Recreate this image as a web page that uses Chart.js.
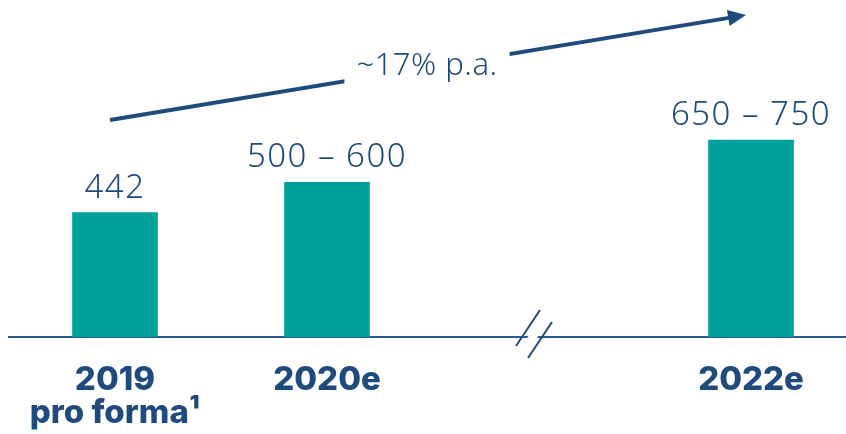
<!DOCTYPE html>
<html>
<head>
<meta charset="utf-8">
<script src="https://cdn.jsdelivr.net/npm/chart.js@4.4.0/dist/chart.umd.min.js"></script>
<style>
  html, body { margin: 0; padding: 0; background: #fff; }
  #wrap { width: 846px; height: 434px; }
</style>
</head>
<body>
<div id="wrap"><canvas id="chart"></canvas></div>
<script>
// data (2021 is the empty slot behind the axis break)
const categories = ['2019', '2020e', '2021', '2022e'];
const subLabels = ['pro forma¹', '', '', ''];
const values = [442, 550, null, 700];        // bar heights (range midpoints)
const valueLabels = ['442', '500 – 600', '', '650 – 750'];
const growthLabel = '~17% p.a.';
const breakIndex = 2;

const navy = '#1f4a7e';
const teal = '#00a19b';

// arrow: from above 2019 to above 2022e, in data units
const arrowFrom = { x: 0, y: 771 };
const arrowTo = { x: 3, y: 1144 };

const points = values
  .map((v, i) => ({ x: i, y: v }))
  .filter(p => p.y != null);

const tickLabel = (i) => subLabels[i] ? [categories[i], subLabels[i]] : categories[i];

const valueLabelPlugin = {
  id: 'valueLabels',
  afterDatasetsDraw(chart) {
    const ctx = chart.ctx;
    const meta = chart.getDatasetMeta(0);
    ctx.save();
    ctx.font = '300 33px "Noto Sans"';
    ctx.letterSpacing = '1.5px';
    ctx.fillStyle = navy;
    ctx.textAlign = 'center';
    ctx.textBaseline = 'alphabetic';
    meta.data.forEach((bar, i) => {
      const idx = points[i].x;
      ctx.fillText(valueLabels[idx], bar.x, bar.y - 15);
    });
    ctx.restore();
  }
};

const breakPlugin = {
  id: 'axisBreak',
  afterDraw(chart) {
    const ctx = chart.ctx;
    const x = chart.scales.x.getPixelForValue(breakIndex) - 5;
    const y = chart.chartArea.bottom;
    ctx.save();
    // white gap in the axis line
    ctx.strokeStyle = '#fff';
    ctx.lineWidth = 8;
    ctx.beginPath();
    ctx.moveTo(x - 14, y + 18);
    ctx.lineTo(x + 10, y - 16);
    ctx.stroke();
    ctx.strokeStyle = navy;
    ctx.lineWidth = 2;
    [-6, 6].forEach(d => {
      ctx.beginPath();
      ctx.moveTo(x + d - 12, y + d + 15);
      ctx.lineTo(x + d + 12, y + d - 21);
      ctx.stroke();
    });
    ctx.restore();
  }
};

const arrowPlugin = {
  id: 'growthArrow',
  afterDraw(chart) {
    const ctx = chart.ctx;
    const xs = chart.scales.x, ys = chart.scales.y;
    const x1 = xs.getPixelForValue(arrowFrom.x) - 5, y1 = ys.getPixelForValue(arrowFrom.y);
    const x2 = xs.getPixelForValue(arrowTo.x) - 5, y2 = ys.getPixelForValue(arrowTo.y);
    const ang = Math.atan2(y2 - y1, x2 - x1);
    const head = 18;
    ctx.save();
    ctx.strokeStyle = navy;
    ctx.fillStyle = navy;
    ctx.lineWidth = 4;
    ctx.beginPath();
    ctx.moveTo(x1, y1);
    ctx.lineTo(x2 - Math.cos(ang) * head * 0.8, y2 - Math.sin(ang) * head * 0.8);
    ctx.stroke();
    ctx.beginPath();
    ctx.moveTo(x2, y2);
    ctx.lineTo(x2 - head * Math.cos(ang) + 8 * Math.sin(ang), y2 - head * Math.sin(ang) - 8 * Math.cos(ang));
    ctx.lineTo(x2 - head * Math.cos(ang) - 8 * Math.sin(ang), y2 - head * Math.sin(ang) + 8 * Math.cos(ang));
    ctx.closePath();
    ctx.fill();

    // label sitting on the arrow
    ctx.font = '300 31px "Noto Sans"';
    ctx.letterSpacing = '0.5px';
    ctx.textAlign = 'center';
    ctx.textBaseline = 'alphabetic';
    const tx = 427, ty = 75;
    const w = ctx.measureText(growthLabel).width;
    ctx.fillStyle = '#fff';
    ctx.fillRect(tx - w / 2 - 12, ty - 32, w + 24, 42);
    ctx.fillStyle = navy;
    ctx.fillText(growthLabel, tx, ty);
    ctx.restore();
  }
};

new Chart(document.getElementById('chart'), {
  type: 'bar',
  data: {
    datasets: [{
      data: points,
      backgroundColor: teal,
      borderWidth: 0,
      barThickness: 85
    }]
  },
  options: {
    responsive: true,
    maintainAspectRatio: false,
    animation: false,
    layout: { padding: { left: 9, right: 0, top: 0, bottom: 0 } },
    plugins: {
      legend: { display: false },
      tooltip: { enabled: false }
    },
    scales: {
      x: {
        type: 'linear',
        min: -0.5,
        max: 3.448,
        offset: false,
        grid: { display: false, drawTicks: false },
        border: { display: true, color: '#2a5a8f', width: 2 },
        afterBuildTicks: (scale) => {
          scale.ticks = [0, 1, 3].map(v => ({ value: v }));
        },
        ticks: {
          color: navy,
          font: { family: 'Inter', weight: '800', size: 33, lineHeight: 1.0 },
          padding: 27,
          maxRotation: 0,
          autoSkip: false,
          callback: (v) => tickLabel(v)
        },
        afterFit: (scale) => { scale.height = 97; }
      },
      y: {
        display: false,
        min: 0,
        max: 1197.5
      }
    }
  },
  plugins: [valueLabelPlugin, breakPlugin, arrowPlugin]
});
</script>
</body>
</html>
